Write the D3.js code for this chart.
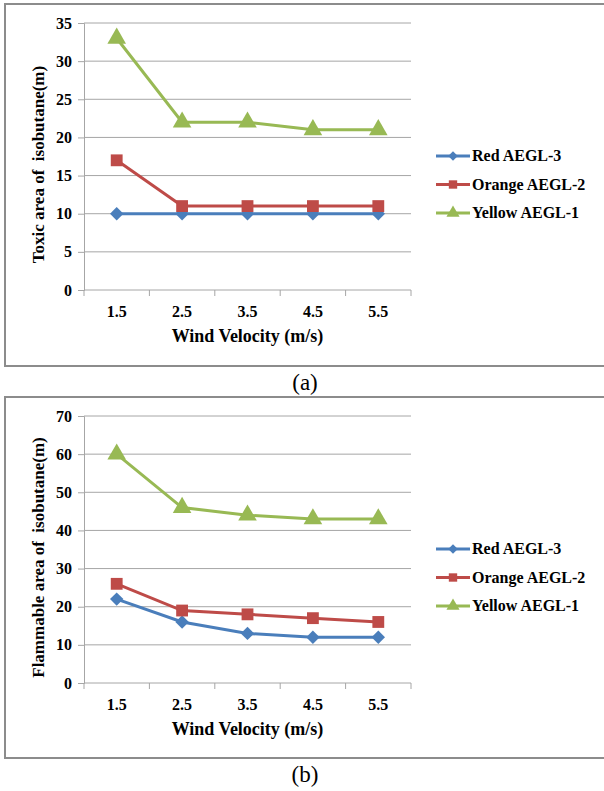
<!DOCTYPE html>
<html>
<head>
<meta charset="utf-8">
<script src="https://cdn.jsdelivr.net/npm/d3@7"></script>
<style>
  body { margin: 0; background: #fff; }
  svg, svg text { font-family: "Times New Roman", Times, "Liberation Serif", "DejaVu Serif", serif !important; }
</style>
</head>
<body>
<div id="chartContainer"></div>
<script>
var width = 604;
var height = 791;

// wind velocity categories
var velocities = ["1.5", "2.5", "3.5", "4.5", "5.5"];
var seriesNames = ["Red AEGL-3", "Orange AEGL-2", "Yellow AEGL-1"];

// (a) toxic area
var toxicRed = [10, 10, 10, 10, 10];
var toxicOrange = [17, 11, 11, 11, 11];
var toxicYellow = [33, 22, 22, 21, 21];
var toxicTicks = [0, 5, 10, 15, 20, 25, 30, 35];

// (b) flammable area
var flamRed = [22, 16, 13, 12, 12];
var flamOrange = [26, 19, 18, 17, 16];
var flamYellow = [60, 46, 44, 43, 43];
var flamTicks = [0, 10, 20, 30, 40, 50, 60, 70];

var colors = ["#4a7ebb", "#be4b48", "#98b954"];
// excel diamond = square turned 45 degrees
var symbols = [d3.symbolSquare, d3.symbolSquare, d3.symbolTriangle];
var symSizes = [90, 140, 150];
var symRotate = [45, 0, 0];

var svg = d3.select('#chartContainer')
    .append('svg')
    .attr("width", width)
    .attr("height", height);

function drawPanel(top, boxBottom, yMax, ticks, series, yTitle, letter) {
  var g = svg.append('g');

  // outer box (runs past the right edge like the picture)
  g.append('rect')
    .attr('x', 5).attr('y', top)
    .attr('width', 610).attr('height', boxBottom - top)
    .attr('fill', 'none').attr('stroke', '#8c8c8c').attr('stroke-width', 2);

  var plotTop = top + 19;
  var plotBottom = plotTop + 267;
  var left = 84, right = 411;

  var x = d3.scaleBand().domain(velocities).range([left, right]);
  var y = d3.scaleLinear().domain([0, yMax]).range([plotBottom, plotTop]);

  // gridlines
  g.append('g').selectAll('line').data(ticks.filter(function(t){ return t > 0; }))
    .enter().append('line')
    .attr('x1', left).attr('x2', right)
    .attr('y1', function(d){ return y(d); }).attr('y2', function(d){ return y(d); })
    .attr('stroke', '#a6a6a6').attr('stroke-width', 1);

  // y axis
  var yAxis = d3.axisLeft(y).tickValues(ticks).tickSize(6).tickPadding(6);
  var yg = g.append('g').attr('transform', 'translate(' + left + ',0)').call(yAxis);
  yg.select('.domain').attr('stroke', '#a6a6a6');
  yg.selectAll('.tick line').attr('stroke', '#a6a6a6');
  yg.selectAll('text').attr('font-size', 16).attr('font-weight', 'bold')
    .attr('fill', '#000');

  // x axis with ticks on band edges
  var xg = g.append('g').attr('transform', 'translate(0,' + plotBottom + ')');
  xg.append('line').attr('x1', left).attr('x2', right)
    .attr('stroke', '#a6a6a6');
  var edges = velocities.map(function(v){ return x(v); }).concat([right]);
  xg.selectAll('.edge').data(edges).enter().append('line')
    .attr('x1', function(d){ return d; }).attr('x2', function(d){ return d; })
    .attr('y1', 0).attr('y2', 6).attr('stroke', '#a6a6a6');
  xg.selectAll('.lbl').data(velocities).enter().append('text')
    .attr('x', function(d){ return x(d) + x.bandwidth() / 2; })
    .attr('y', 27)
    .attr('text-anchor', 'middle')
    .attr('font-size', 16).attr('font-weight', 'bold')
    .text(function(d){ return d; });

  // axis titles
  g.append('text')
    .attr('x', (left + right) / 2).attr('y', plotBottom + 52)
    .attr('text-anchor', 'middle')
    .attr('font-size', 18).attr('font-weight', 'bold')
    .text('Wind Velocity (m/s)');
  g.append('text')
    .attr('transform', 'translate(44,' + ((plotTop + plotBottom) / 2 + 8) + ') rotate(-90)')
    .attr('text-anchor', 'middle')
    .attr('font-size', 17).attr('font-weight', 'bold')
    .style('white-space', 'pre')
    .text(yTitle);

  var lineFunc = d3.line()
    .x(function(d, i){ return x(velocities[i]) + x.bandwidth() / 2; })
    .y(function(d){ return y(d); });

  series.forEach(function(vals, s) {
    g.append('path').attr('d', lineFunc(vals))
      .attr('fill', 'none').attr('stroke', colors[s]).attr('stroke-width', 3);
    g.selectAll('.pt' + s).data(vals).enter().append('path')
      .attr('d', d3.symbol().type(symbols[s]).size(symSizes[s]))
      .attr('transform', function(d, i){
        return 'translate(' + (x(velocities[i]) + x.bandwidth() / 2) + ',' + y(d) + ') rotate(' + symRotate[s] + ')';
      })
      .attr('fill', colors[s]);
  });

  // legend
  var legTop = top + 152;
  seriesNames.forEach(function(name, s) {
    var ly = legTop + s * 28.5;
    g.append('line').attr('x1', 436).attr('x2', 470).attr('y1', ly).attr('y2', ly)
      .attr('stroke', colors[s]).attr('stroke-width', 3);
    g.append('path')
      .attr('d', d3.symbol().type(symbols[s]).size(symSizes[s] * 0.5))
      .attr('transform', 'translate(453,' + ly + ') rotate(' + symRotate[s] + ')')
      .attr('fill', colors[s]);
    g.append('text').attr('x', 472).attr('y', ly + 5)
      .attr('font-size', 16).attr('font-weight', 'bold')
      .text(name);
  });

  // panel letter
  g.append('text')
    .attr('x', 305).attr('y', boxBottom + 24)
    .attr('text-anchor', 'middle')
    .attr('font-size', 23)
    .text(letter);
}

drawPanel(4, 366, 35, toxicTicks, [toxicRed, toxicOrange, toxicYellow],
  'Toxic area of  isobutane(m)', '(a)');
drawPanel(397, 758, 70, flamTicks, [flamRed, flamOrange, flamYellow],
  'Flammable area of  isobutane(m)', '(b)');
</script>
</body>
</html>
